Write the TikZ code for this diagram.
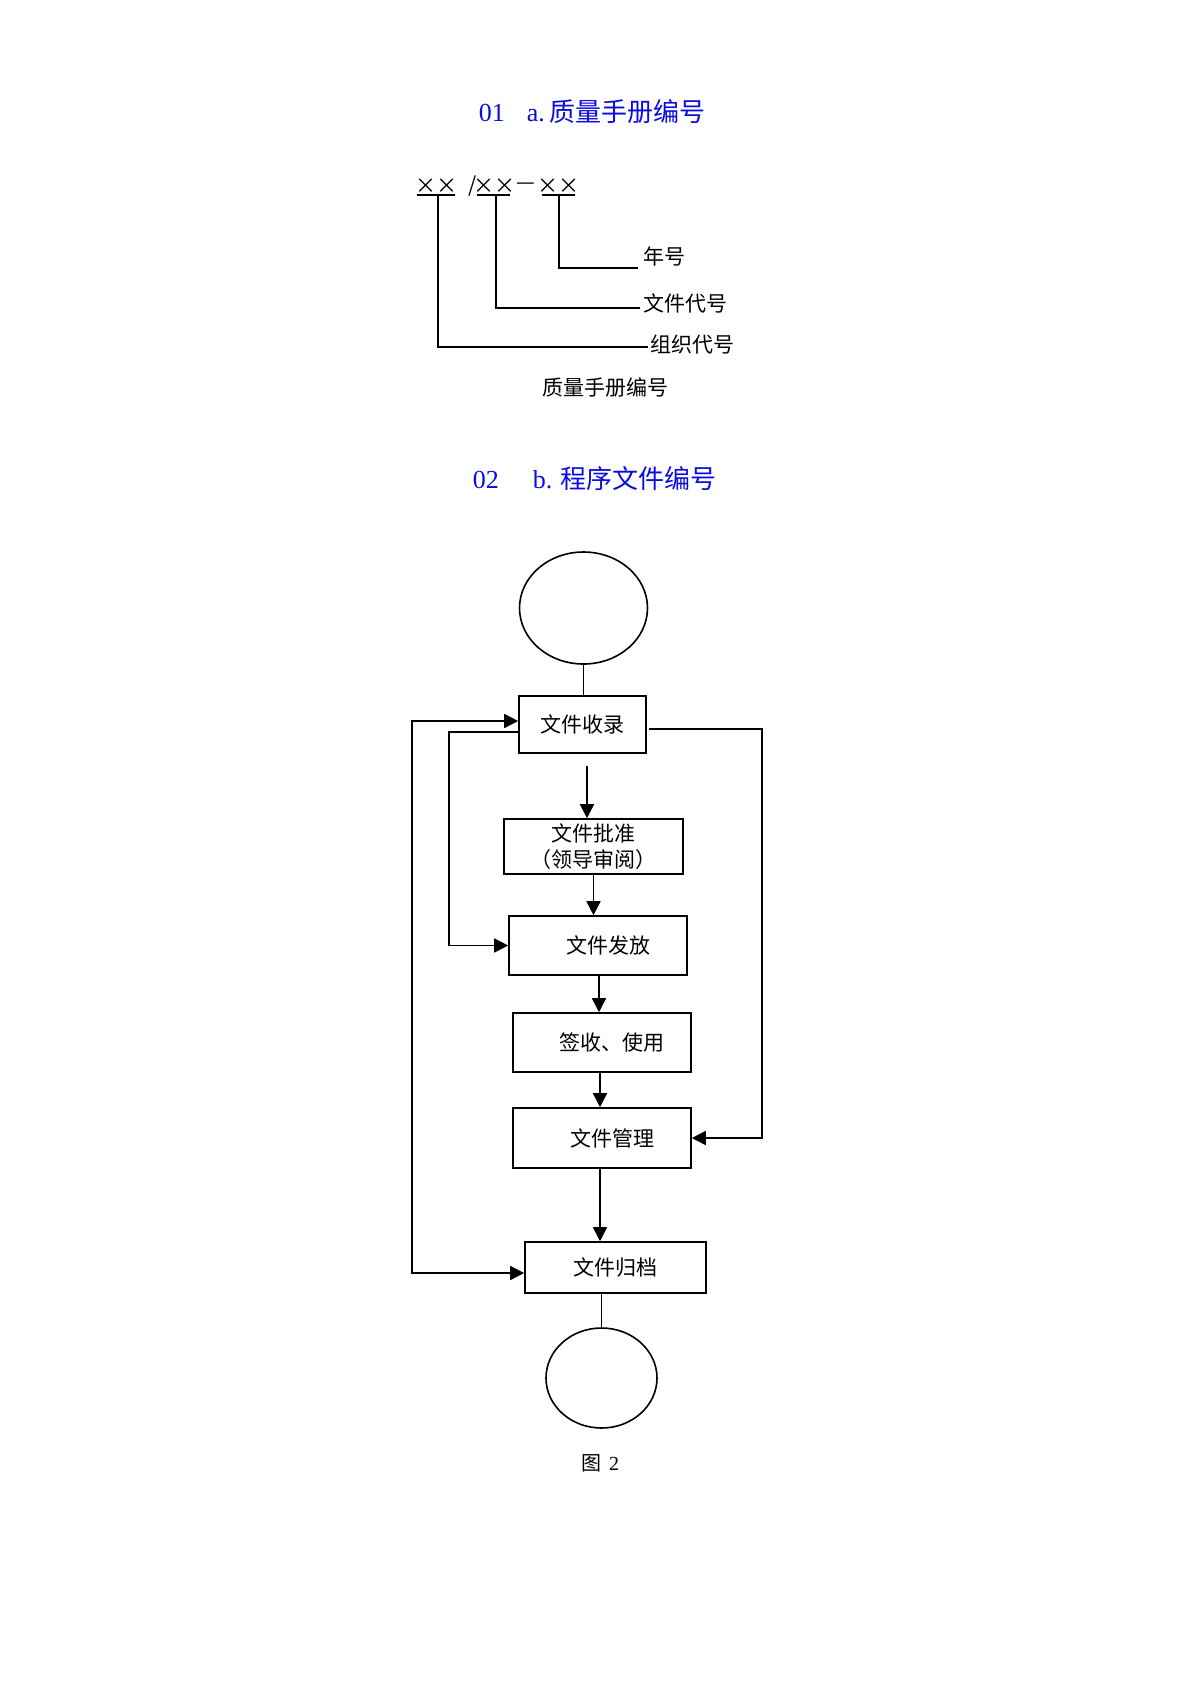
\documentclass[tikz,border=0pt]{standalone}
\usepackage{fontspec}
\setmainfont{Liberation Serif}
\newfontfamily\cjk{Noto Sans CJK SC}
\usetikzlibrary{arrows.meta,shapes.geometric,calc}
\definecolor{titleblue}{RGB}{10,10,225}
\begin{document}
\begin{tikzpicture}[x=0.5pt,y=-0.5pt,line width=0.8pt,
  box/.style={draw,rectangle,inner sep=0pt,align=center,font=\cjk\fontsize{10.5}{13}\selectfont},
  lbl/.style={inner sep=0pt,font=\cjk\fontsize{10.5}{13}\selectfont},
  codetxt/.style={inner sep=0pt,font=\cjk\fontsize{10.5}{13}\selectfont},
  ttl/.style={inner sep=0pt,anchor=west,text=titleblue,font=\fontsize{13}{15}\selectfont},
  circ/.style={draw,ellipse,inner sep=0pt},
  arr/.style={-{Triangle[length=7pt,width=7pt]}},
  arrboth/.style={{Triangle[length=7pt,width=7pt]}-{Triangle[length=7pt,width=7pt]}}]
\useasboundingbox (0,0) rectangle (1190,1683);

% ---------- titles ----------
\node[ttl] (t1) at (478,112) {01\hspace{11pt}a.\hspace{2.5pt}{\cjk 质量手册编号}};
\node[ttl] (t2) at (472,479) {02\hspace{17pt}b.\hspace{4pt}{\cjk 程序文件编号}};

% ---------- numbering scheme ----------
\node[codetxt] (x1) at (436,186) {××};
\node[codetxt,anchor=east] (sl) at (478,186) {/};
\node[codetxt] (x2) at (494,186) {××};
\node[codetxt] (dh) at (526,186) {—};
\node[codetxt] (x3) at (558,186) {××};

\coordinate (u1a) at (417,195); \coordinate (u1b) at (455,195);
\coordinate (u2a) at (477,195); \coordinate (u2b) at (510,195);
\coordinate (u3a) at (542,195); \coordinate (u3b) at (575,195);
\draw (u1a) -- (u1b);
\draw (u2a) -- (u2b);
\draw (u3a) -- (u3b);
\coordinate (v1) at (438,195);
\coordinate (v2) at (496,195);
\coordinate (v3) at (559,195);

\coordinate (e3) at (638,268);
\coordinate (e2) at (640,308);
\coordinate (e1) at (648,347);
\node[lbl,anchor=west] (l3) at (643,256) {年号};
\node[lbl,anchor=west] (l2) at (643,303) {文件代号};
\node[lbl,anchor=west] (l1) at (650,345) {组织代号};
\draw (v3) |- (e3);
\draw (v2) |- (e2);
\draw (v1) |- (e1);
\node[lbl] (cap) at (605,388) {质量手册编号};

% ---------- flowchart ----------
\node[circ,minimum width=64pt,minimum height=56pt] (c1) at (583.5,608) {};
\node[box,minimum width=63.5pt,minimum height=28.5pt] (b1) at (582.5,724.5) {文件收录};
\node[box,minimum width=89.5pt,minimum height=27.5pt] (b2) at (593.5,846.5) {文件批准\\（领导审阅）};
\node[box,minimum width=89pt,minimum height=29.5pt] (b3) at (598,945.5) {\hspace{10pt}文件发放};
\node[box,minimum width=89pt,minimum height=29.5pt] (b4) at (602,1042.5) {\hspace{10pt}签收、使用};
\node[box,minimum width=89pt,minimum height=30pt] (b5) at (602,1138) {\hspace{10pt}文件管理};
\node[box,minimum width=90.5pt,minimum height=25.5pt] (b6) at (615.5,1267.5) {文件归档};
\node[circ,minimum width=55.5pt,minimum height=50pt] (c2) at (601.5,1378) {};

\draw (c1.south) -- (c1.south |- b1.north);
\draw[arr] ([xshift=2.25pt,yshift=-6pt]b1.south) -- ([xshift=2.25pt]b1.south |- b2.north);
\draw[arr] (b2.south) -- (b2.south |- b3.north);
\draw[arr] ([xshift=0.5pt]b3.south) -- ([xshift=0.5pt]b3.south |- b4.north);
\draw[arr] ([xshift=-1pt]b4.south) -- ([xshift=-1pt]b4.south |- b5.north);
\draw[arr] ([xshift=-1pt]b5.south) -- ([xshift=-1pt]b5.south |- b6.north);
\draw (c2.north |- b6.south) -- (c2.north);

% loops
\draw[arrboth] ([yshift=1.75pt]b1.west) -- ++(-106,0) |- ([yshift=-2.75pt]b6.west);
\draw[arr] ([yshift=-3.75pt]b1.west) -- ++(-69,0) |- (b3.west);
\draw[arr] ([xshift=1pt,yshift=-2.25pt]b1.east) -- ++(113,0) |- (b5.east);

\node[inner sep=0pt,font=\fontsize{10}{12}\selectfont] (fig) at (600,1463) {{\cjk 图}\hspace{4pt}2};
\end{tikzpicture}
\end{document}
